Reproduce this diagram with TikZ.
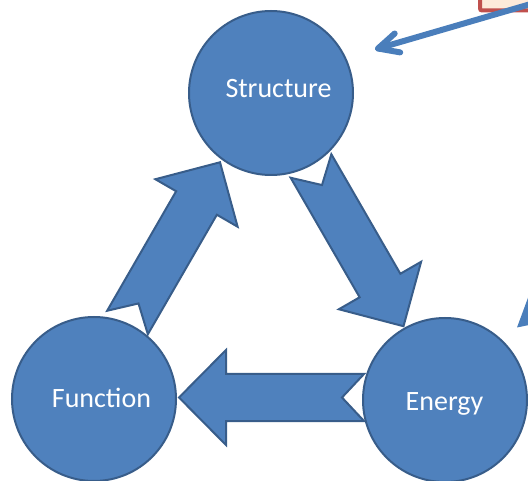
\documentclass[tikz,border=0pt]{standalone}
\usepackage{fontspec}
\setmainfont{Carlito}
\usetikzlibrary{calc}
\definecolor{fillblue}{HTML}{4F81BD}
\definecolor{edgeblue}{HTML}{385D8A}
\definecolor{lineblue}{HTML}{4A7EBB}
\definecolor{boxred}{HTML}{C0504D}
\definecolor{boxfill}{HTML}{FDEADA}
\newcommand\blockarrow[2]{%
  \begin{scope}[shift={(#1)},rotate=#2]
    \path[blockarr] (0,-23.5) -- (138,-23.5) -- (138,-47.5) -- (185,0) -- (138,47.5)
      -- (138,23.5) -- (0,23.5) -- (22,0) -- cycle;
  \end{scope}}
\begin{document}
\begin{tikzpicture}[x=1pt,y=-1pt,
  circ/.style={circle, fill=fillblue, draw=edgeblue, line width=2pt, minimum size=164pt, inner sep=0pt},
  lbl/.style={anchor=base, text=white, font=\fontsize{28}{34}\selectfont, inner sep=0pt},
  blockarr/.style={fill=fillblue, draw=edgeblue, line width=2pt, line join=miter},
  thinarrow/.style={draw=lineblue, line width=6pt, line cap=round, line join=round},
  redbox/.style={fill=boxfill, draw=boxred, line width=4pt, rounded corners=2pt}]
\useasboundingbox (0,0) rectangle (528,481);
\clip (0,0) rectangle (528,481);
% partial note box at top right
\path[redbox] (480,10.5) rectangle (620,-60);
% circles
\node[circ] (S) at (271,93) {};
\node[circ] (F) at (94,399) {};
\node[circ] (E) at (445,400) {};
\node[lbl] (tS) at (278.5,98) {Structure};
\node[lbl] (tF) at (101.5,407) {Function};
\node[lbl] (tE) at (444.5,410) {Energy};
% block arrows
\coordinate (a1) at (127.5,322.5);
\coordinate (a2) at (311,166);
\coordinate (a3) at (364,397.5);
\blockarrow{a1}{60}
\blockarrow{a2}{-60}
\blockarrow{a3}{180}
% callout arrow from top right
\coordinate (ls) at (560,-4.5);
\coordinate (lt) at (378,48.5);
\draw[thinarrow] (ls) -- (lt);
\draw[thinarrow] ($(lt)+(16.7,-15)$) -- (lt) -- ($(lt)+(22.2,3.9)$);
% partial arrow head at lower right
\fill[lineblue] (517,327.5) -- (529,295) -- (529,325) -- cycle;
\end{tikzpicture}
\end{document}
